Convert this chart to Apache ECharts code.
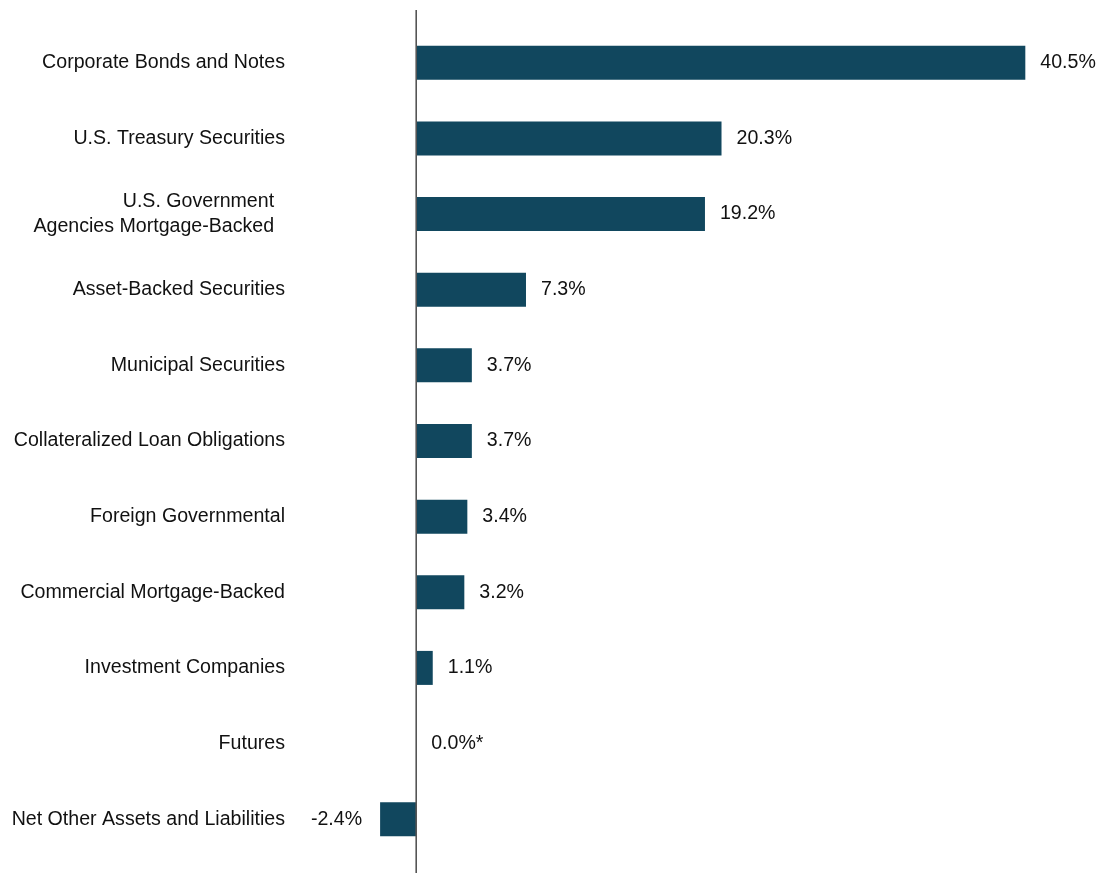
<!DOCTYPE html>
<html>
<head>
<meta charset="utf-8">
<script src="https://cdn.jsdelivr.net/npm/echarts@6/dist/echarts.min.js"></script>
<style>
html,body{margin:0;padding:0;background:#fff;}
#chart{width:1103px;height:873px;}
</style>
</head>
<body>
<div id="chart"></div>
<script>
const categories = [
  "Corporate Bonds and Notes",
  "U.S. Treasury Securities",
  "U.S. Government  \nAgencies Mortgage-Backed  ",
  "Asset-Backed Securities",
  "Municipal Securities",
  "Collateralized Loan Obligations",
  "Foreign Governmental",
  "Commercial Mortgage-Backed",
  "Investment Companies",
  "Futures",
  "Net Other Assets and Liabilities"
];
const values = [40.5, 20.3, 19.2, 7.3, 3.7, 3.7, 3.4, 3.2, 1.1, 0.0, -2.4];
const valueLabels = ["40.5%", "20.3%", "19.2%", "7.3%", "3.7%", "3.7%", "3.4%", "3.2%", "1.1%", "0.0%*", "-2.4%"];

const FONT = '"Liberation Sans Narrow", "Arial Narrow", "Liberation Sans", Arial, sans-serif';
const BAR = '#11475e';

const chart = echarts.init(document.getElementById('chart'), null, {renderer: 'canvas'});

const data = values.map((v, i) => ({
  value: v,
  label: {
    position: v < 0 ? 'left' : 'right',
    distance: v < 0 ? 18 : 15,
    formatter: valueLabels[i]
  }
}));

chart.setOption({
  animation: false,
  backgroundColor: '#ffffff',
  grid: {left: 341, width: 752, top: 25, height: 832, containLabel: false},
  xAxis: {
    type: 'value', min: -5, max: 45, show: false
  },
  yAxis: {
    type: 'category',
    data: categories,
    inverse: true,
    axisLine: {show: false, onZero: false},
    axisTick: {show: false},
    splitLine: {show: false},
    axisLabel: {
      margin: 56,
      color: '#111111',
      fontFamily: FONT,
      fontSize: 19.6,
      lineHeight: 25,
      align: 'right'
    }
  },
  series: [{
    type: 'bar',
    data: data,
    barWidth: 34,
    itemStyle: {color: BAR},
    label: {
      show: true,
      color: '#111111',
      fontFamily: FONT,
      fontSize: 19.6
    }
  }]
});

const x0 = chart.convertToPixel({gridIndex: 0}, [0, 0])[0];
chart.setOption({
  graphic: [{
    type: 'line',
    z: 100,
    shape: {x1: x0, y1: 10, x2: x0, y2: 873},
    style: {stroke: '#555555', lineWidth: 1.6}
  }]
});
</script>
</body>
</html>
